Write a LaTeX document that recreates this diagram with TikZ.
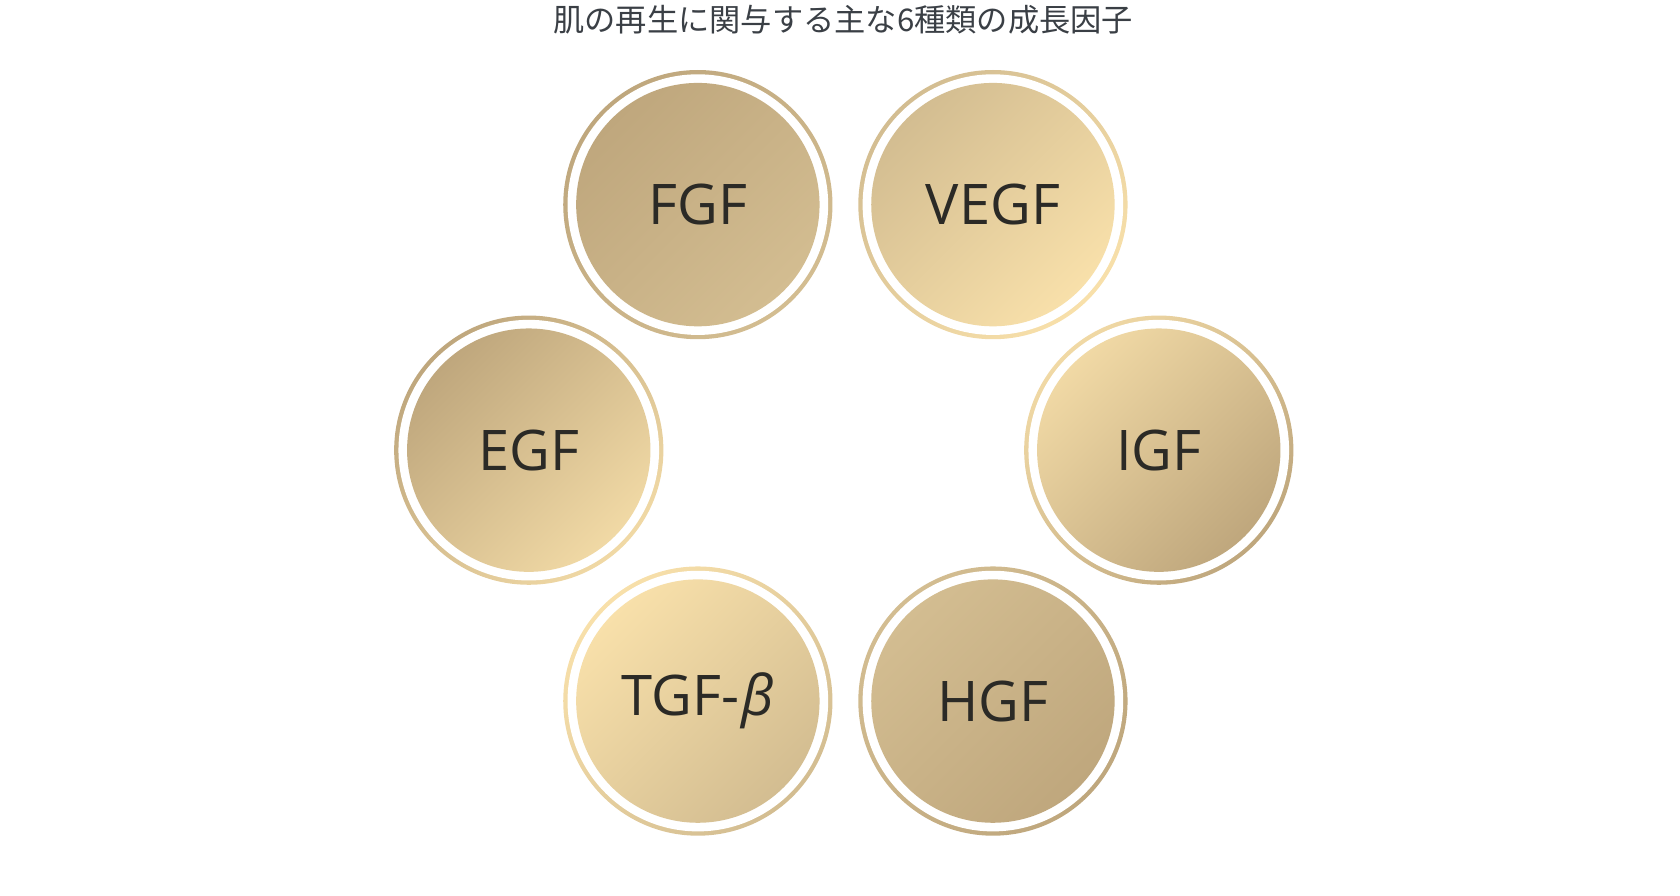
\documentclass[tikz,border=0pt]{standalone}
\usepackage{fontspec}
\setmainfont{Open Sans}
\newfontfamily\cjk{Noto Sans CJK JP}
\definecolor{gdark}{HTML}{BFA77D}
\definecolor{gmid}{HTML}{D3BD91}
\definecolor{glight}{HTML}{F8E0AA}
\definecolor{txt}{HTML}{2B2A26}
\definecolor{ttl}{HTML}{3A3F45}
\tikzset{lbl/.style={font=\fontsize{52}{60}\selectfont, text=txt}}
\newcommand{\gfcircle}[5]{%
  \shade[top color=#3, bottom color=#4, shading angle=45] (#1) circle (125);
  \fill[white] (#1) circle (121);
  \shade[top color=#3, bottom color=#4, shading angle=45] (#1) circle (113);
  \node[lbl] (#5) at (#1) {#2};}
\begin{document}
\begin{tikzpicture}[x=1pt,y=-1pt]
\useasboundingbox (0,0) rectangle (1560,832);
\node[font=\cjk\fontsize{29}{34}\selectfont, text=ttl] (title) at (783,18) {肌の再生に関与する主な6種類の成長因子};
\gfcircle{648,190}{FGF}{gdark}{gmid}{fgf}
\gfcircle{922,190}{VEGF}{gmid}{glight}{vegf}
\gfcircle{491,418}{EGF}{gdark}{glight!80!gmid}{egf}
\gfcircle{1076,418}{IGF}{glight!80!gmid}{gdark}{igf}
\gfcircle{648,651}{TGF-\kern2pt\textit{β}}{glight}{gmid}{tgf}
\gfcircle{922,651}{HGF}{gmid}{gdark}{hgf}
\end{tikzpicture}
\end{document}
